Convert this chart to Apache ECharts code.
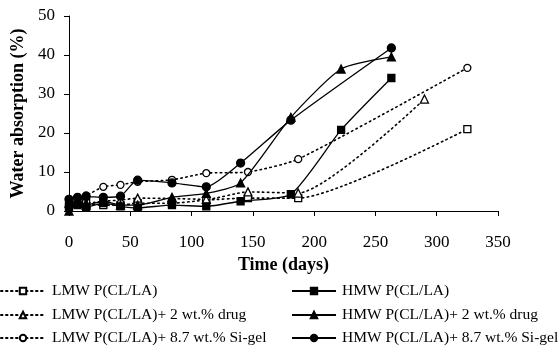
<!DOCTYPE html>
<html>
<head>
<meta charset="utf-8">
<script src="https://cdn.jsdelivr.net/npm/echarts@6/dist/echarts.min.js"></script>
<style>
  html, body { margin: 0; padding: 0; background: #fff; }
  #chart { width: 560px; height: 349px; }
</style>
</head>
<body>
<div id="chart"></div>
<script>
// series data (days, water absorption %)
var lmwDays = [0, 7, 14, 28, 42, 56, 84, 112, 146, 187, 325];
var lmwVals = [1.5, 2.5, 2, 1.5, 1.5, 2, 2, 2.8, 3.3, 3.3, 21];

var lmwDrugDays = [0, 7, 14, 28, 42, 56, 84, 112, 146, 187, 290];
var lmwDrugVals = [2, 2.5, 2, 2.5, 2.8, 3.3, 3.2, 3.0, 4.9, 4.6, 28.7];

var lmwSiDays = [0, 7, 14, 28, 42, 56, 84, 112, 146, 187, 325];
var lmwSiVals = [3, 3.5, 4, 6.2, 6.7, 7.5, 8, 9.7, 10, 13.3, 36.7];

var hmwDays = [0, 7, 14, 28, 42, 56, 84, 112, 140, 181, 222, 263];
var hmwVals = [1, 1.5, 1, 2, 1.2, 0.8, 1.5, 1.2, 2.5, 4.3, 20.8, 34.1];

var hmwDrugDays = [0, 7, 14, 28, 42, 56, 84, 112, 140, 181, 222, 263];
var hmwDrugVals = [0, 2, 1.5, 2.5, 1.5, 1.5, 3.5, 4.5, 7.2, 24, 36.4, 39.5];

var hmwSiDays = [0, 7, 14, 28, 42, 56, 84, 112, 140, 181, 263];
var hmwSiVals = [3, 3.5, 3.7, 3.5, 3.8, 7.9, 7.2, 6.2, 12.3, 23.3, 41.8];

var xTicks = [0, 50, 100, 150, 200, 250, 300, 350];
var yTicks = [0, 10, 20, 30, 40, 50];

var names = [
  'LMW P(CL/LA)',
  'HMW P(CL/LA)',
  'LMW P(CL/LA)+ 2 wt.% drug',
  'HMW P(CL/LA)+ 2 wt.% drug',
  'LMW P(CL/LA)+ 8.7 wt.% Si-gel',
  'HMW P(CL/LA)+ 8.7 wt.% Si-gel'
];

function zip(d, v) {
  return d.map(function (x, i) { return [x, v[i]]; });
}

var font = '"Liberation Serif", "DejaVu Serif", serif';

function mkSeries(name, d, v, symbol, dotted, size) {
  return {
    name: name,
    type: 'line',
    data: zip(d, v),
    symbol: symbol,
    symbolSize: size || 7,
    smooth: 0.2,
    itemStyle: { color: dotted ? '#fff' : '#000', borderColor: '#000', borderWidth: 1.3 },
    lineStyle: dotted
      ? { color: '#000', width: 1.6, type: [1.5, 3.5], cap: 'round' }
      : { color: '#000', width: 1.3 },
    emphasis: { disabled: true },
    z: dotted ? 2 : 3
  };
}

function mkLegend(name, left, top, gap) {
  return {
    data: [name],
    left: left,
    top: top,
    padding: 0,
    itemWidth: 44,
    itemHeight: 8,
    itemGap: gap,
    selectedMode: false,
    textStyle: { fontFamily: font, fontSize: 15.5, color: '#000', padding: [0, 0, 0, gap - 5] }
  };
}

var myChart = echarts.init(document.getElementById('chart'));
var option = {
  backgroundColor: '#fff',
  animation: false,
  grid: { left: 69, top: 16, width: 429, height: 195 },
  xAxis: {
    type: 'value',
    min: xTicks[0],
    max: xTicks[xTicks.length - 1],
    interval: 50,
    name: 'Time (days)',
    nameLocation: 'middle',
    nameGap: 44,
    nameTextStyle: { fontFamily: font, fontSize: 18, fontWeight: 'bold', color: '#000' },
    axisLine: { lineStyle: { color: '#000', width: 1 } },
    axisTick: { show: true, length: 5, lineStyle: { color: '#000' } },
    axisLabel: { fontFamily: font, fontSize: 17, color: '#000', margin: 23 },
    splitLine: { show: false }
  },
  yAxis: {
    type: 'value',
    min: yTicks[0],
    max: yTicks[yTicks.length - 1],
    interval: 10,
    name: 'Water absorption (%)',
    nameLocation: 'middle',
    nameGap: 41,
    nameTextStyle: { fontFamily: font, fontSize: 18, fontWeight: 'bold', color: '#000' },
    axisLine: { show: true, lineStyle: { color: '#000', width: 1 } },
    axisTick: { show: true, length: 5, lineStyle: { color: '#000' } },
    axisLabel: { fontFamily: font, fontSize: 17, color: '#000', margin: 14 },
    splitLine: { show: false }
  },
  legend: [
    mkLegend(names[0], 0, 283, 7),
    mkLegend(names[1], 291, 283, 6),
    mkLegend(names[2], 0, 307, 7),
    mkLegend(names[3], 291, 307, 6),
    mkLegend(names[4], 0, 330, 7),
    mkLegend(names[5], 291, 330, 6)
  ],
  series: [
    mkSeries(names[0], lmwDays, lmwVals, 'rect', true, 7),
    mkSeries(names[1], hmwDays, hmwVals, 'rect', false, 7),
    mkSeries(names[2], lmwDrugDays, lmwDrugVals, 'triangle', true, 8),
    mkSeries(names[3], hmwDrugDays, hmwDrugVals, 'triangle', false, 8),
    mkSeries(names[4], lmwSiDays, lmwSiVals, 'circle', true, 7),
    mkSeries(names[5], hmwSiDays, hmwSiVals, 'circle', false, 8)
  ]
};
if (option && typeof option === "object") {
  myChart.setOption(option, true);
}
</script>
</body>
</html>
